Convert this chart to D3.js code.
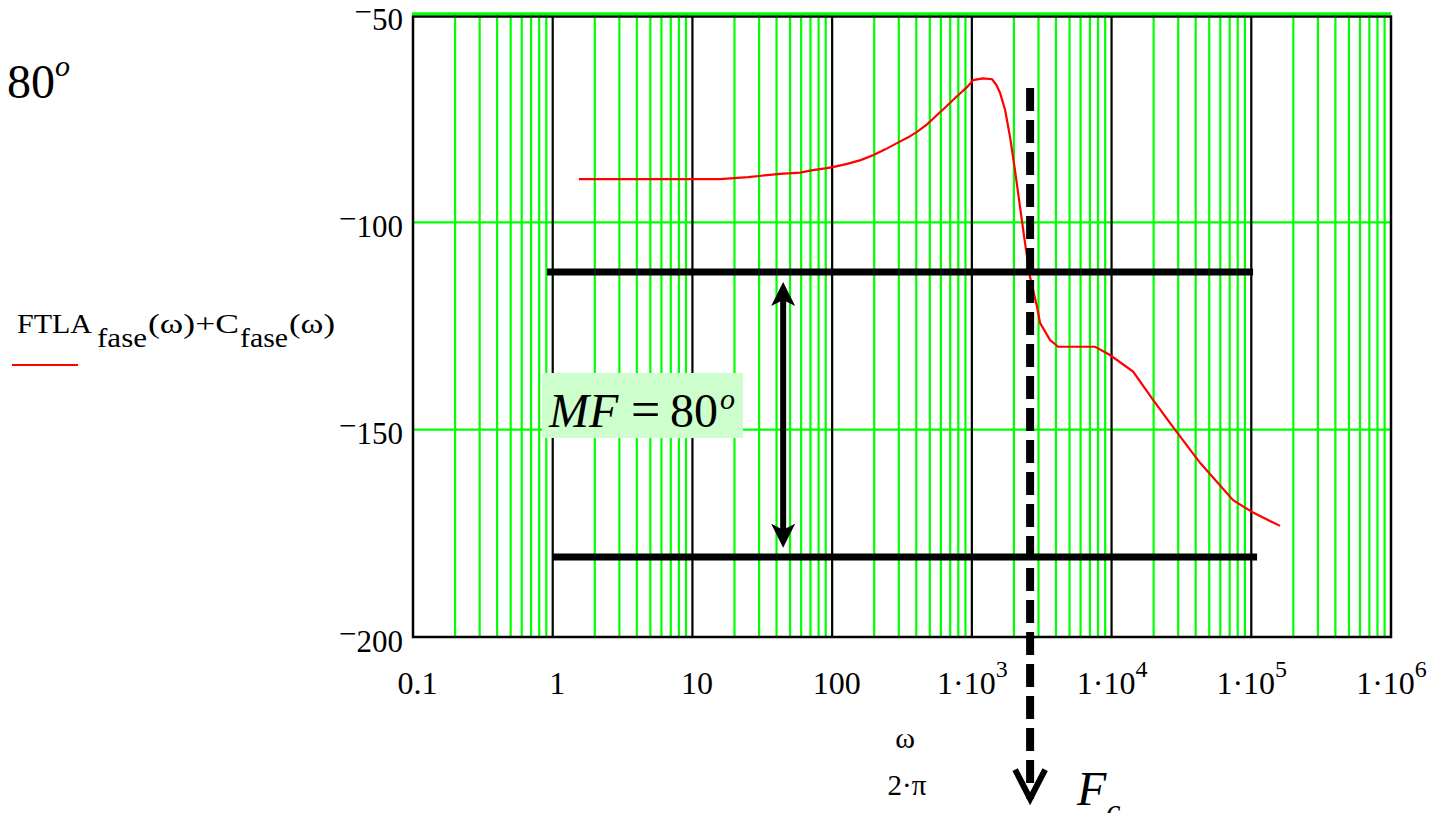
<!DOCTYPE html>
<html>
<head>
<meta charset="utf-8">
<script src="https://cdn.jsdelivr.net/npm/d3@7"></script>
<style>
  html, body { margin: 0; padding: 0; background: #fff; }
  svg { display: block; font-family: "Liberation Serif", "Times New Roman", serif; }
</style>
</head>
<body>
<svg id="chart" width="1439" height="813"></svg>
<script>
// ---- data ----
const freq = [1.54, 4, 10, 15.8, 25, 42.4, 58.9, 72.9, 88.9, 101, 128, 160, 196, 240, 291, 350, 405, 480, 563, 650,
  733, 830, 924, 1020, 1200, 1396, 1500, 1592, 1730, 1876, 2036, 2212, 2403, 2610, 2930, 3080, 3630, 4140, 5500, 7620,
  9750, 14250, 19820, 27540, 43000, 74100, 103000, 160700];
const phase = [-89.6, -89.6, -89.6, -89.6, -89.1, -88.3, -88.0, -87.4, -87.0, -86.7, -85.9, -85.0, -83.8, -82.4, -80.9,
  -79.5, -78.2, -76.3, -74.1, -72.2, -70.5, -68.8, -67.4, -65.7, -65.3, -65.5, -66.9, -68.8, -72.9, -79.4, -87.4, -96.3,
  -105, -113.2, -120.4, -124.3, -128.4, -130, -130, -130, -132, -136, -142.8, -149.4, -158, -167, -170, -173.2];

const xTicks = [0.1, 1, 10, 100, 1e3, 1e4, 1e5, 1e6];
const xTickLabels = ["0.1", "1", "10", "100", "1·10|3", "1·10|4", "1·10|5", "1·10|6"];
const yTicks = [-50, -100, -150, -200];
const yTickLabels = ["50", "100", "150", "200"];

// annotation values
const refLevels = [-112, -180.7];
const refStart = [0.91, 1.0];
const refEnd = [1.03e5, 1.1e5];
const mfArrowFreq = 44.6;
const mfArrowTop = -114.4;
const mfArrowBottom = -178.5;
const fcFreq = 2612;
const fcTop = -67.6;
const fcBottom = -239;

// ---- scales ----
const svg = d3.select("#chart");
const x = d3.scaleLog().domain([0.1, 1e6]).range([413, 1391]);
const y = d3.scaleLinear().domain([-200, -50]).range([637, 15]);
const GREEN = "#00ff00";

// ---- grid ----
const minor = [];
for (let d = 0.1; d < 1e6 * 0.99; d *= 10) {
  for (let k = 2; k <= 9; k++) minor.push(d * k);
}
svg.append("g").selectAll("line").data(minor).join("line")
  .attr("x1", d => x(d)).attr("x2", d => x(d))
  .attr("y1", y(-50)).attr("y2", y(-200))
  .attr("stroke", GREEN).attr("stroke-width", 2.2);

svg.append("g").selectAll("line").data([-100, -150]).join("line")
  .attr("x1", x(0.1)).attr("x2", x(1e6))
  .attr("y1", d => y(d)).attr("y2", d => y(d))
  .attr("stroke", GREEN).attr("stroke-width", 2.2);

svg.append("g").selectAll("line").data([1, 10, 100, 1e3, 1e4, 1e5]).join("line")
  .attr("x1", d => x(d)).attr("x2", d => x(d))
  .attr("y1", y(-50) + 1).attr("y2", y(-200))
  .attr("stroke", "#000").attr("stroke-width", 2.2);

// border
svg.append("rect")
  .attr("x", x(0.1)).attr("y", y(-50) + 1.5)
  .attr("width", x(1e6) - x(0.1)).attr("height", y(-200) - y(-50) - 1.5)
  .attr("fill", "none").attr("stroke", "#000").attr("stroke-width", 2.5);

// top green line
svg.append("line")
  .attr("x1", x(0.1) - 1).attr("x2", x(1e6))
  .attr("y1", y(-50) - 1.2).attr("y2", y(-50) - 1.2)
  .attr("stroke", GREEN).attr("stroke-width", 3);

// ---- axes ----
const xAxis = svg.append("g").attr("transform", `translate(0,${y(-200)})`)
  .call(d3.axisBottom(x).tickValues(xTicks).tickSize(0).tickFormat((d, i) => xTickLabels[i]));
xAxis.select(".domain").remove();
xAxis.selectAll("text")
  .attr("fill", "#000").attr("font-size", 32).attr("font-family", "Liberation Serif")
  .attr("y", 57).attr("dy", null)
  .each(function(d, i) {
    const t = d3.select(this);
    const lab = xTickLabels[i];
    t.text(null);
    if (lab.includes("|")) {
      const [base, ex] = lab.split("|");
      t.append("tspan").text(base);
      t.append("tspan").attr("dy", -17).attr("font-size", 24).text(ex);
    } else {
      t.attr("dx", 4).text(lab);
    }
  });

const yAxis = svg.append("g").attr("transform", `translate(${x(0.1)},0)`)
  .call(d3.axisLeft(y).tickValues(yTicks).tickSize(0).tickPadding(10).tickFormat((d, i) => yTickLabels[i]));
yAxis.select(".domain").remove();
yAxis.selectAll("text")
  .attr("fill", "#000").attr("font-size", 31).attr("font-family", "Liberation Serif")
  .attr("dy", null)
  .each(function(d, i) {
    const t = d3.select(this);
    t.text(null);
    t.append("tspan").attr("dy", 6).text("\u2212");
    t.append("tspan").attr("dy", 8).text(yTickLabels[i]);
  });

// ---- curve ----
const pts = freq.map((f, i) => [f, phase[i]]);
svg.append("path")
  .datum(pts)
  .attr("d", d3.line().x(d => x(d[0])).y(d => y(d[1])))
  .attr("fill", "none").attr("stroke", "#ff0000").attr("stroke-width", 2.2);

// ---- annotations ----
svg.append("g").selectAll("line").data(refLevels).join("line")
  .attr("x1", (d, i) => x(refStart[i])).attr("x2", (d, i) => x(refEnd[i]))
  .attr("y1", d => y(d)).attr("y2", d => y(d))
  .attr("stroke", "#000").attr("stroke-width", 7);

// double arrow
const ax = x(mfArrowFreq), ayT = y(mfArrowTop), ayB = y(mfArrowBottom);
svg.append("line").attr("x1", ax).attr("x2", ax).attr("y1", ayT + 15).attr("y2", ayB - 15)
  .attr("stroke", "#000").attr("stroke-width", 6);
svg.append("path").attr("d", `M${ax},${ayT} L${ax - 12},${ayT + 24} L${ax},${ayT + 18} L${ax + 12},${ayT + 24} Z`).attr("fill", "#000");
svg.append("path").attr("d", `M${ax},${ayB} L${ax - 12},${ayB - 24} L${ax},${ayB - 18} L${ax + 12},${ayB - 24} Z`).attr("fill", "#000");

// MF label
svg.append("rect").attr("x", 542).attr("y", 373).attr("width", 201).attr("height", 65).attr("fill", "#ccffcc");
const mf = svg.append("text").attr("y", 427).attr("font-size", 48).attr("fill", "#000");
mf.append("tspan").attr("x", 549).attr("font-style", "italic").text("MF");
mf.append("tspan").attr("x", 631).attr("font-size", 52).text("=");
mf.append("tspan").attr("x", 670).text("80");
mf.append("tspan").attr("x", 720).attr("dy", -18).attr("font-size", 30).attr("font-style", "italic").text("o");

// Fc dashed arrow
const fx = x(fcFreq);
svg.append("line").attr("x1", fx).attr("x2", fx).attr("y1", y(fcTop)).attr("y2", y(fcBottom))
  .attr("stroke", "#000").attr("stroke-width", 8).attr("stroke-dasharray", "23,9");
svg.append("path").attr("d", `M${fx - 15},${y(fcBottom) - 29} L${fx},${y(fcBottom)} L${fx + 15},${y(fcBottom) - 29}`)
  .attr("fill", "none").attr("stroke", "#000").attr("stroke-width", 6).attr("stroke-linejoin", "miter");

const fc = svg.append("text").attr("x", 1077).attr("y", 805).attr("fill", "#000");
fc.append("tspan").attr("font-size", 48).attr("font-style", "italic").text("F");
fc.append("tspan").attr("dy", 16).attr("font-size", 32).attr("font-style", "italic").text("c");

// x-axis title
svg.append("text").attr("x", 905).attr("y", 748).attr("text-anchor", "middle").attr("font-size", 30).text("ω");
svg.append("text").attr("x", 907).attr("y", 795).attr("text-anchor", "middle").attr("font-size", 29).text("2·π");

// top-left 80°
const t80 = svg.append("text").attr("x", 7).attr("y", 98).attr("fill", "#000");
t80.append("tspan").attr("font-size", 48).text("80");
t80.append("tspan").attr("dy", -22).attr("font-size", 30).attr("font-style", "italic").text("o");

// legend (pieces stretched to the reference widths)
const legendParts = [
  { t: "FTLA", x: 17, w: 75, y: 333 },
  { t: "fase", x: 97, w: 50, y: 347 },
  { t: "(ω)+C", x: 148, w: 91, y: 333 },
  { t: "fase", x: 240, w: 48, y: 347 },
  { t: "(ω)", x: 289, w: 46, y: 333 }
];
svg.append("g").selectAll("text").data(legendParts).join("text")
  .attr("x", d => d.x).attr("y", d => d.y)
  .attr("font-size", 27).attr("fill", "#000")
  .attr("textLength", d => d.w).attr("lengthAdjust", "spacingAndGlyphs")
  .text(d => d.t);
svg.append("line").attr("x1", 12).attr("x2", 78).attr("y1", 365).attr("y2", 365)
  .attr("stroke", "#ff0000").attr("stroke-width", 2);
</script>
</body>
</html>
